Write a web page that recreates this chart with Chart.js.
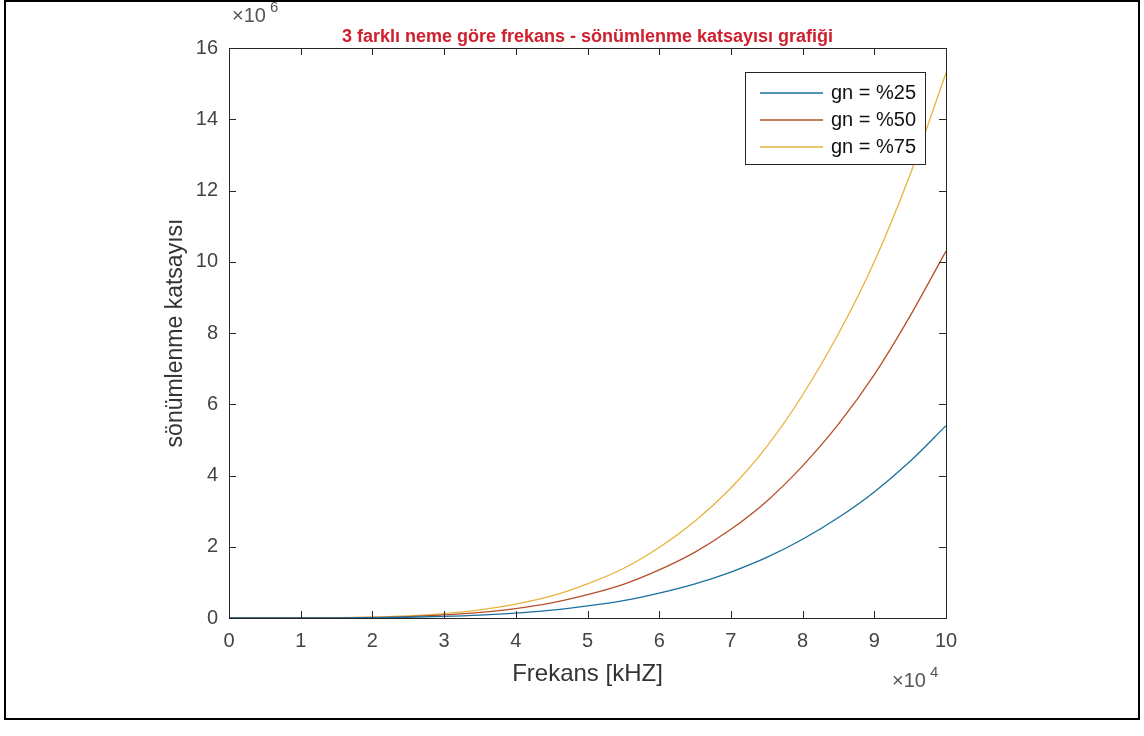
<!DOCTYPE html>
<html>
<head>
<meta charset="utf-8">
<title>sönümlenme katsayısı</title>
<script src="https://cdn.jsdelivr.net/npm/chart.js@4"></script>
<style>
  html, body { margin: 0; padding: 0; background: #fff; }
  #wrap { position: relative; width: 1144px; height: 736px; }
  #frame { position: absolute; left: 4px; top: 0px; width: 1132px; height: 716px; border: 2px solid #000; pointer-events: none; }
  canvas { position: absolute; left: 0; top: 0; }
</style>
</head>
<body>
<div id="wrap">
  <canvas id="grafik" width="1144" height="736"></canvas>
  <div id="frame"></div>
</div>
<script>
// frekans (x 10^4 Hz)
const frekans = [0, 0.5, 1, 1.5, 2, 2.5, 3, 3.5, 4, 4.5, 5, 5.5, 6, 6.5, 7, 7.5, 8, 8.5, 9, 9.5, 10];

// sönümlenme katsayısı (x 10^6), nem oranına göre
const gn25 = [0, 0, 0.001, 0.003, 0.009, 0.021, 0.044, 0.081, 0.138, 0.22, 0.34, 0.49, 0.70, 0.96, 1.29, 1.70, 2.21, 2.82, 3.54, 4.40, 5.40];
const gn50 = [0, 0, 0.002, 0.006, 0.017, 0.041, 0.085, 0.156, 0.266, 0.425, 0.655, 0.945, 1.35, 1.85, 2.49, 3.28, 4.27, 5.44, 6.83, 8.48, 10.3];
const gn75 = [0, 0, 0.003, 0.009, 0.025, 0.059, 0.125, 0.23, 0.39, 0.62, 0.96, 1.39, 1.98, 2.72, 3.65, 4.81, 6.26, 7.98, 10.0, 12.45, 15.3];

const etiketler = ['gn = %25', 'gn = %50', 'gn = %75'];
const renkler = ['#1a6f9e', '#b5502a', '#e6b43c'];

// eksen işaretleri
const xTikler = [0, 1, 2, 3, 4, 5, 6, 7, 8, 9, 10];
const yTikler = [0, 2, 4, 6, 8, 10, 12, 14, 16];

const yazi = "'Liberation Sans', Arial, Helvetica, sans-serif";
const eksenRengi = '#262626';

function noktalar(seri) {
    return frekans.map((f, i) => ({ x: f, y: seri[i] }));
}

// MATLAB tarzı kutu, içe dönük çentikler, lejant ve çarpanlar
const kutuEklentisi = {
    id: 'kutu',
    afterDraw(chart) {
        const ctx = chart.ctx;
        const a = chart.chartArea;
        const xs = chart.scales.x;
        const ys = chart.scales.y;
        const tl = 7;

        ctx.save();
        ctx.strokeStyle = eksenRengi;
        ctx.lineWidth = 1;
        ctx.beginPath();
        xTikler.forEach(v => {
            const px = Math.round(xs.getPixelForValue(v)) + 0.5;
            ctx.moveTo(px, a.bottom); ctx.lineTo(px, a.bottom - tl);
            ctx.moveTo(px, a.top); ctx.lineTo(px, a.top + tl);
        });
        yTikler.forEach(v => {
            const py = Math.round(ys.getPixelForValue(v)) + 0.5;
            ctx.moveTo(a.left, py); ctx.lineTo(a.left + tl, py);
            ctx.moveTo(a.right, py); ctx.lineTo(a.right - tl, py);
        });
        ctx.stroke();
        ctx.strokeRect(Math.round(a.left) + 0.5, Math.round(a.top) + 0.5,
            Math.round(a.right - a.left), Math.round(a.bottom - a.top));

        // lejant
        const lx = a.right - 201, ly = a.top + 24, lw = 180, lh = 92;
        ctx.fillStyle = '#fff';
        ctx.fillRect(lx, ly, lw, lh);
        ctx.strokeRect(lx + 0.5, ly + 0.5, lw, lh);
        ctx.font = '20px ' + yazi;
        ctx.textBaseline = 'middle';
        ctx.textAlign = 'left';
        chart.data.datasets.forEach((ds, i) => {
            const ry = ly + 21 + i * 27;
            ctx.strokeStyle = ds.borderColor;
            ctx.lineWidth = 1.3;
            ctx.beginPath();
            ctx.moveTo(lx + 15, ry); ctx.lineTo(lx + 78, ry);
            ctx.stroke();
            ctx.fillStyle = '#111';
            ctx.fillText(ds.label, lx + 86, ry);
        });

        // çarpanlar: x10^6 ve x10^4
        ctx.fillStyle = '#555';
        ctx.textBaseline = 'alphabetic';
        ctx.font = '20px ' + yazi;
        ctx.fillText('\u00d710', a.left + 3, a.top - 26);
        ctx.font = '15px ' + yazi;
        ctx.fillText('6', a.left + 41, a.top - 36);
        ctx.font = '20px ' + yazi;
        ctx.fillText('\u00d710', a.right - 54, a.bottom + 69);
        ctx.font = '15px ' + yazi;
        ctx.fillText('4', a.right - 16, a.bottom + 59);
        ctx.restore();
    }
};

new Chart(document.getElementById('grafik'), {
    type: 'line',
    data: {
        datasets: [gn25, gn50, gn75].map((seri, i) => ({
            label: etiketler[i],
            data: noktalar(seri),
            borderColor: renkler[i],
            backgroundColor: renkler[i],
            borderWidth: 1.3,
            pointRadius: 0,
            cubicInterpolationMode: 'monotone',
            fill: false,
        })),
    },
    options: {
        responsive: false,
        animation: false,
        layout: { padding: { left: 0, right: 198, top: 0, bottom: 0 } },
        plugins: {
            legend: { display: false },
            tooltip: { enabled: false },
            title: {
                display: true,
                fullSize: false,
                text: '3 farklı neme göre frekans - sönümlenme katsayısı grafiği',
                color: '#d0202e',
                font: { family: yazi, size: 18, weight: 'bold' },
                padding: { top: 26.4, bottom: 0 },
            },
        },
        scales: {
            x: {
                type: 'linear',
                min: 0,
                max: 10,
                afterFit: s => { s.height = 118; },
                afterBuildTicks: s => { s.ticks = xTikler.map(v => ({ value: v })); },
                grid: { display: false, drawTicks: false },
                border: { display: false },
                ticks: { color: '#444', padding: 11, maxRotation: 0, font: { family: yazi, size: 20 } },
                title: {
                    display: true,
                    text: 'Frekans [kHZ]',
                    color: '#333',
                    font: { family: yazi, size: 24 },
                    padding: { top: 0, bottom: 47.6 },
                },
            },
            y: {
                min: 0,
                max: 16,
                afterFit: s => { s.width = 229; },
                afterBuildTicks: s => { s.ticks = yTikler.map(v => ({ value: v })); },
                grid: { display: false, drawTicks: false },
                border: { display: false },
                ticks: { color: '#444', padding: 11, font: { family: yazi, size: 20 } },
                title: {
                    display: true,
                    text: 'sönümlenme katsayısı',
                    color: '#333',
                    font: { family: yazi, size: 23 },
                    padding: { top: 162, bottom: 0 },
                },
            },
        },
    },
    plugins: [kutuEklentisi],
});
</script>
</body>
</html>
